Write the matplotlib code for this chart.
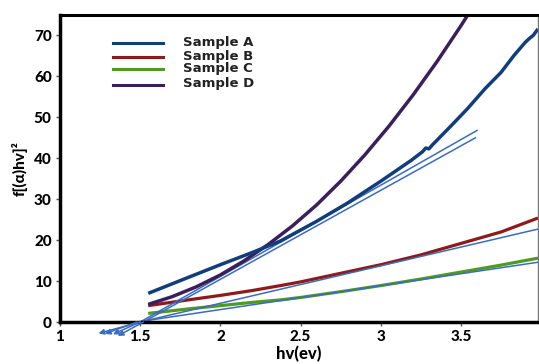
import matplotlib
matplotlib.use("Agg")
import matplotlib.pyplot as plt
from matplotlib.lines import Line2D

plt.rcParams['font.family'] = ['Lato', 'DejaVu Sans']
plt.rcParams['font.weight'] = 'bold'

# Data
a_x = [1.55, 1.8, 2.0, 2.2, 2.375, 2.6, 2.79, 3.0, 3.19, 3.26, 3.28, 3.30, 3.32, 3.44, 3.54, 3.65, 3.75, 3.83, 3.90, 3.93, 3.95, 3.98]
a_y = [7.0, 10.9, 14.0, 17.0, 19.8, 24.6, 29.0, 34.4, 39.5, 41.6, 42.5, 42.3, 43.2, 48.0, 52.1, 57.0, 61.0, 65.1, 68.3, 69.4, 70.0, 71.6]

b_x = [1.55, 1.8, 2.0, 2.2, 2.375, 2.5, 2.75, 3.0, 3.25, 3.5, 3.75, 3.98]
b_y = [4.0, 5.4, 6.5, 7.7, 8.9, 9.8, 11.9, 14.0, 16.4, 19.2, 22.0, 25.4]

c_x = [1.55, 1.8, 2.0, 2.2, 2.375, 2.5, 2.75, 3.0, 3.25, 3.5, 3.75, 3.98]
c_y = [2.1, 3.2, 4.0, 4.8, 5.4, 6.0, 7.4, 8.9, 10.5, 12.2, 13.9, 15.6]

d_x = [1.55, 1.7, 1.85, 2.0, 2.15, 2.3, 2.45, 2.6, 2.75, 2.9, 3.05, 3.2, 3.35, 3.5, 3.55]
d_y = [4.3, 6.2, 8.6, 11.5, 15.0, 19.0, 23.5, 28.6, 34.4, 40.8, 47.8, 55.4, 63.6, 72.4, 75.5]

# Tangent lines: right end, x-intercept, arrow tip
tan_x1 = [3.60, 3.59, 3.98, 3.98]
tan_y1 = [46.8, 45.0, 22.7, 14.6]
tan_x0 = [1.50, 1.52, 1.50, 1.48]
tip_x = [1.33, 1.36, 1.24, 1.28]
tip_y = [-3.0, -3.4, -2.8, -2.9]

labels = ['Sample A', 'Sample B', 'Sample C', 'Sample D']
colors = ['#123d7c', '#8e1b1b', '#4f9a22', '#3b1f5c']
tan_color = '#3a6cbc'

fig = plt.figure(figsize=(5.39, 3.64), dpi=100)
ax = fig.add_axes([60/539, 1-322/364, 478/539, 307/364])

for (xx, yy), col in zip([(b_x, b_y), (c_x, c_y)], [colors[1], colors[2]]):
    ax.plot(xx, yy, color=col, lw=2.3, solid_capstyle='butt')

for x1, y1, x0, tx, ty in zip(tan_x1, tan_y1, tan_x0, tip_x, tip_y):
    ax.plot([x0, x1], [0, y1], color=tan_color, lw=1.1, clip_on=False)
    ax.annotate('', xy=(tx, ty), xytext=(x0, 0), annotation_clip=False,
                arrowprops=dict(arrowstyle='-|>', color=tan_color, lw=1.1,
                                mutation_scale=8, shrinkA=0, shrinkB=0))

ax.plot(d_x, d_y, color=colors[3], lw=2.5, solid_capstyle='butt', solid_joinstyle='round')
ax.plot(a_x, a_y, color=colors[0], lw=2.5, solid_capstyle='butt', solid_joinstyle='round')

ax.set_xlim(1, 3.98)
ax.set_ylim(0, 75)
ax.set_xticks([1, 1.5, 2, 2.5, 3, 3.5])
ax.set_xticklabels(['1', '1.5', '2', '2.5', '3', '3.5'])
ax.set_yticks(range(0, 71, 10))
ax.tick_params(axis='both', labelsize=11, length=3, width=1, color='#555555', pad=3)
for lab in ax.get_xticklabels() + ax.get_yticklabels():
    lab.set_fontweight('black')

for s in ['left', 'bottom']:
    ax.spines[s].set_linewidth(2.5)
    ax.spines[s].set_color('black')
ax.spines['top'].set_linewidth(2.2)
ax.spines['top'].set_color('black')
ax.spines['right'].set_linewidth(1.0)
ax.spines['right'].set_color('#777777')

ax.set_xlabel('hv(ev)', fontsize=12, fontweight='black', labelpad=1)
ax.set_ylabel('f[(\u03b1)hv]\u00b2', fontsize=11, fontweight='black', labelpad=4)

# legend drawn manually
leg_y = [0.909, 0.863, 0.824, 0.772]
leg_ty = [0.909, 0.865, 0.826, 0.778]
for lab, col, yl, yt in zip(labels, colors, leg_y, leg_ty):
    ax.add_line(Line2D([0.111, 0.215], [yl, yl], transform=ax.transAxes, color=col, lw=2.2))
    ax.text(0.257, yt, lab, transform=ax.transAxes, fontsize=9.5, fontweight='bold',
            family='DejaVu Sans', va='center', ha='left', color='#222222')

fig.savefig('out.png', dpi=100)
